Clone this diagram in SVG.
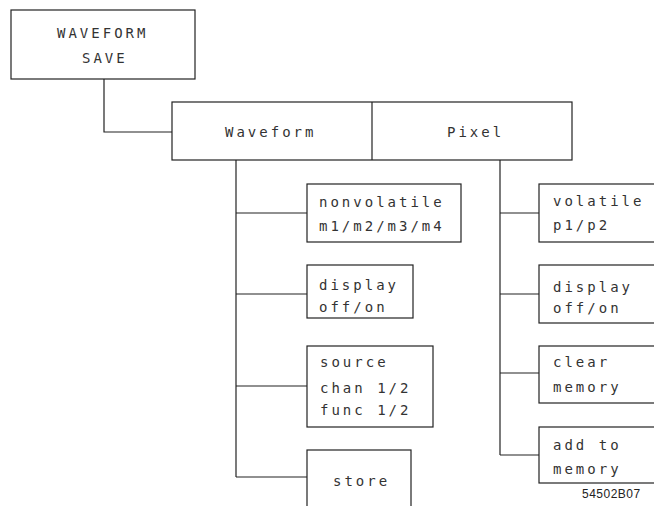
<svg xmlns="http://www.w3.org/2000/svg" width="654" height="506" viewBox="0 0 654 506">
<style>
.box{fill:#fff;stroke:#222;stroke-width:1.2}
.ln{fill:none;stroke:#222;stroke-width:1.2}
.t{font-family:"DejaVu Sans Mono","Liberation Mono",monospace;font-size:14px;letter-spacing:3px;fill:#333}
.id{font-family:"Liberation Sans",Arial,sans-serif;font-size:12px;letter-spacing:0.5px;fill:#222}
</style>
<rect width="654" height="506" fill="#fff"/>
<g id="connectors">
<path class="ln" d="M104,79 V132 H172"/>
<path class="ln" d="M236,160 V477"/>
<path class="ln" d="M236,213 H307 M236,294 H307 M236,386 H307 M236,477 H307"/>
<path class="ln" d="M500,160 V455"/>
<path class="ln" d="M500,213 H539 M500,294 H539 M500,373 H539 M500,455 H539"/>
</g>
<g id="waveform-save">
<rect class="box" x="11" y="10" width="184" height="69"/>
<text class="t" x="57" y="38">WAVEFORM</text>
<text class="t" x="82" y="63">SAVE</text>
</g>
<g id="waveform-pixel">
<rect class="box" x="172" y="102" width="400" height="58"/>
<line class="ln" x1="372" y1="102" x2="372" y2="160"/>
<text class="t" x="225" y="137">Waveform</text>
<text class="t" x="447" y="137">Pixel</text>
</g>
<g id="nonvolatile">
<rect class="box" x="307" y="184" width="154" height="58"/>
<text class="t" x="319" y="207">nonvolatile</text>
<text class="t" x="319" y="231">m1/m2/m3/m4</text>
</g>
<g id="display-left">
<rect class="box" x="307" y="265" width="106" height="53"/>
<text class="t" x="319" y="290">display</text>
<text class="t" x="319" y="312">off/on</text>
</g>
<g id="source">
<rect class="box" x="307" y="346" width="126" height="81"/>
<text class="t" x="320" y="367">source</text>
<text class="t" x="320" y="393">chan 1/2</text>
<text class="t" x="320" y="415">func 1/2</text>
</g>
<g id="store">
<rect class="box" x="307" y="450" width="104" height="70"/>
<text class="t" x="333" y="486">store</text>
</g>
<g id="volatile">
<rect class="box" x="539" y="184" width="130" height="58"/>
<text class="t" x="553" y="206">volatile</text>
<text class="t" x="553" y="230">p1/p2</text>
</g>
<g id="display-right">
<rect class="box" x="539" y="265" width="130" height="58"/>
<text class="t" x="553" y="292">display</text>
<text class="t" x="553" y="313">off/on</text>
</g>
<g id="clear-memory">
<rect class="box" x="539" y="346" width="130" height="57"/>
<text class="t" x="553" y="367">clear</text>
<text class="t" x="553" y="392">memory</text>
</g>
<g id="add-to-memory">
<rect class="box" x="539" y="427" width="130" height="56"/>
<text class="t" x="553" y="450">add to</text>
<text class="t" x="553" y="474">memory</text>
</g>
<text class="id" x="582" y="498">54502B07</text>
</svg>
